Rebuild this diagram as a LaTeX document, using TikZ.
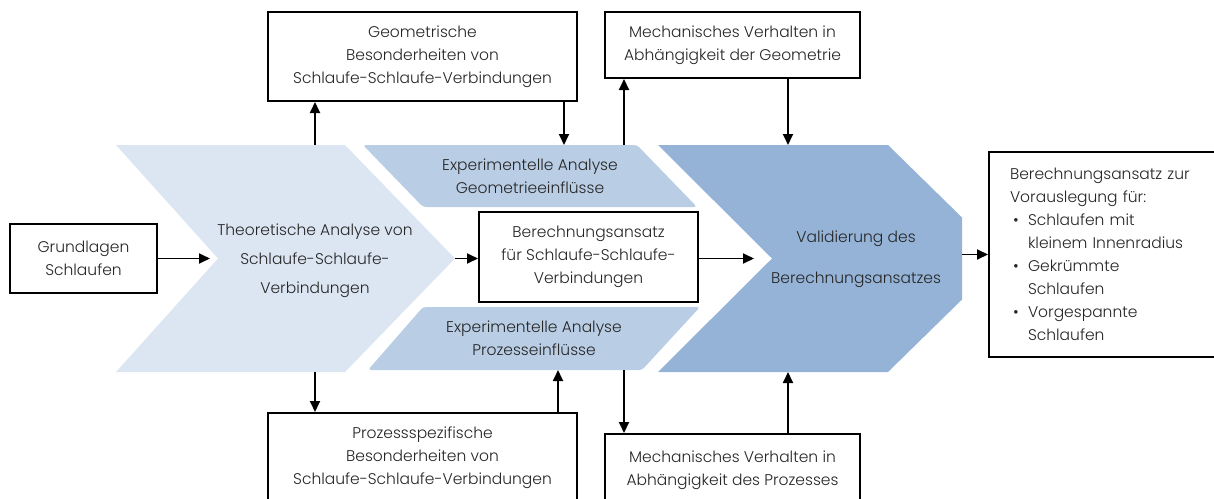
\documentclass[tikz,border=0pt]{standalone}
\usepackage{fontspec}
\setmainfont{Poppins Light}
\usepackage{xcolor}
\usepackage{tikz}
\usetikzlibrary{arrows.meta,positioning,backgrounds,calc}
\definecolor{chevlight}{HTML}{DCE6F2}
\definecolor{chevmid}{HTML}{B9CDE5}
\definecolor{chevdark}{HTML}{95B3D7}
\definecolor{txtdark}{HTML}{262626}
\newcommand{\bulitem}{\makebox[18pt][l]{\hspace{3pt}\textbullet}}
\newcommand{\bulind}{\hspace*{18pt}}
\tikzset{
  txt/.style={align=center,text=txtdark,inner sep=0pt,font=\fontsize{15.5}{23}\selectfont},
  box/.style={txt,draw=black,line width=2pt,fill=white},
  shp/.style={inner sep=0pt,outer sep=0pt},
  ar/.style={-{Triangle[length=11pt,width=10pt]},line width=1.8pt},
}

\begin{document}
\begin{tikzpicture}[x=1pt,y=-1pt]
  \useasboundingbox (0,0) rectangle (1214,498);
  \clip (0,0) rectangle (1214,498);
  % chevron areas
  \node[shp,minimum width=339,minimum height=227] (theo) at (285.5,258.5) {};
  \node[shp,txt,font=\fontsize{15.5}{29}\selectfont] (theotxt) at (315,261) {Theoretische Analyse von\\Schlaufe-Schlaufe-\\Verbindungen};
  \node[shp,txt,minimum width=334,minimum height=62] (expG) at (530,176) {Experimentelle Analyse\\Geometrieeinflüsse};
  \node[shp,txt,minimum width=332,minimum height=63] (expP) at (534,338.5) {Experimentelle Analyse\\Prozesseinflüsse};
  \node[shp,minimum width=304,minimum height=227] (val) at (810,258.5) {};
  \node[shp,txt,font=\fontsize{15.5}{41}\selectfont] (valtxt) at (856,259) {Validierung des\\Berechnungsansatzes};
  \begin{scope}[on background layer]
    \fill[chevlight] (theo.north west) -- ([xshift=-110]theo.north east) -- (theo.east)
      -- ([xshift=-110]theo.south east) -- (theo.south west) -- ([xshift=102]theo.west) -- cycle;
    \fill[chevmid,rounded corners=3pt] (expG.north west) -- ([xshift=-60]expG.north east)
      -- (expG.south east) -- ([xshift=60]expG.south west) -- cycle;
    \fill[chevmid,rounded corners=3pt] ([xshift=55]expP.north west) -- (expP.north east)
      -- ([xshift=-58]expP.south east) -- (expP.south west) -- cycle;
    \fill[chevdark] (val.north west) -- ([xshift=-74]val.north east) -- ([yshift=41]val.east)
      -- ([yshift=-41]val.east) -- ([xshift=-74]val.south east) -- (val.south west)
      -- ([xshift=114]val.west) -- cycle;
  \end{scope}
  % boxes
  \node[box,minimum width=147,minimum height=69] (grund) at (83.5,258.5) {Grundlagen\\Schlaufen};
  \node[box,minimum width=219,minimum height=90] (bere) at (588.5,257) {Berechnungsansatz\\für Schlaufe-Schlaufe-\\Verbindungen};
  \node[box,minimum width=309,minimum height=89] (geo) at (422.5,56.5) {Geometrische\\Besonderheiten von\\Schlaufe-Schlaufe-Verbindungen};
  \node[box,minimum width=255,minimum height=66] (mechG) at (732.5,45) {Mechanisches Verhalten in\\Abhängigkeit der Geometrie};
  \node[box,minimum width=309,minimum height=90] (proz) at (422.5,458) {Prozessspezifische\\Besonderheiten von\\Schlaufe-Schlaufe-Verbindungen};
  \node[box,minimum width=255,minimum height=72] (mechP) at (732.5,470) {Mechanisches Verhalten in\\Abhängigkeit des Prozesses};
  \node[box,align=left,text width=200,inner xsep=21,minimum height=205] (result) at (1110,254.5)
    {Berechnungsansatz zur\\Vorauslegung für:\\\bulitem Schlaufen mit\\\bulind kleinem Innenradius\\\bulitem Gekrümmte\\\bulind Schlaufen\\\bulitem Vorgespannte\\\bulind Schlaufen};
  % main flow
  \draw[ar] (grund.east) -- ([xshift=94]theo.west);
  \draw[ar] (theo.east) -- (theo.east -| bere.west);
  \draw[ar] (bere.east |- theo.east) -- ([xshift=96]val.west);
  \draw[ar] (val.east |- result.west) -- (result.west);
  % upper side
  \draw[ar] ([xshift=29.5]theo.north) -- ([xshift=29.5]theo.north |- geo.south);
  \draw[ar] ([xshift=-14]geo.south east) -- ([xshift=-14]geo.south east |- expG.north);
  \draw[ar] ([xshift=20]mechG.south west |- expG.north) -- ([xshift=20]mechG.south west);
  \draw[ar] ([xshift=55.5]mechG.south) -- ([xshift=55.5]mechG.south |- val.north);
  % lower side
  \draw[ar] ([xshift=29.5]theo.south) -- ([xshift=29.5]theo.south |- proz.north);
  \draw[ar] ([xshift=-20]proz.north east) -- ([xshift=-20]proz.north east |- expP.south);
  \draw[ar] ([xshift=20]mechP.north west |- expP.south) -- ([xshift=20]mechP.north west);
  \draw[ar] ([xshift=55.5]mechP.north) -- ([xshift=55.5]mechP.north |- val.south);
\end{tikzpicture}
\end{document}
